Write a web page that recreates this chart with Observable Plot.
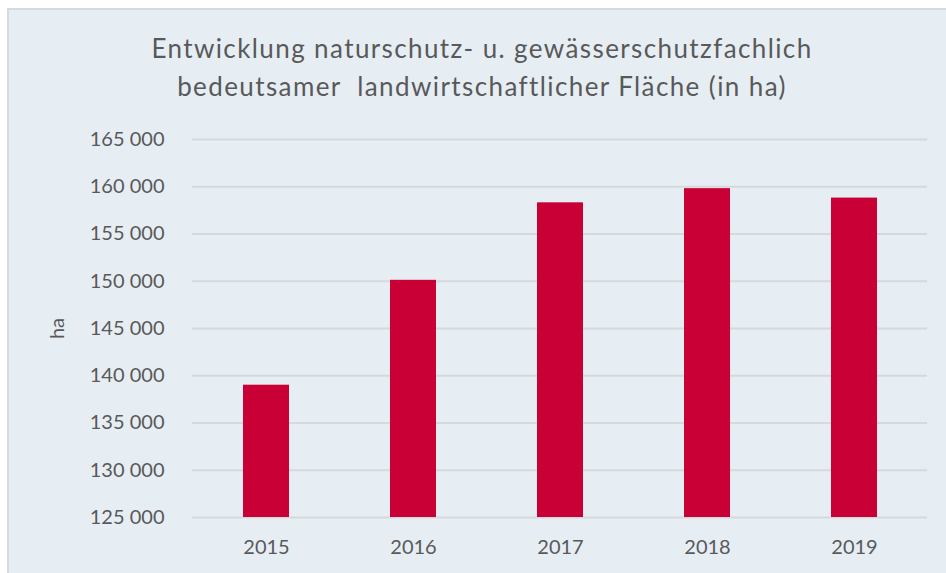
<!DOCTYPE html>
<html>
<head>
<meta charset="utf-8">
<script src="https://cdn.jsdelivr.net/npm/d3@7"></script>
<script src="https://cdn.jsdelivr.net/npm/@observablehq/plot@0.6"></script>
<style>
  html, body { margin: 0; padding: 0; background: #ffffff; }
  #page { position: relative; width: 946px; height: 573px; overflow: hidden; font-family: Lato, "Open Sans", sans-serif; }
  #frame { position: absolute; left: 7px; top: 8px; width: 939px; height: 565px; background: #e6eef4; border-top: 2px solid #d9d9d9; border-left: 2px solid #d9d9d9; box-sizing: border-box; }
  #title { position: absolute; left: 0; width: 964px; top: 29px; text-align: center; color: #595959; font-size: 26px; letter-spacing: 1.4px; line-height: 38px; }
  #chart { position: absolute; left: 0; top: 100px; }
</style>
</head>
<body>
<div id="page">
  <div id="frame"></div>
  <div id="title">Entwicklung naturschutz- u. gewässerschutzfachlich<br>bedeutsamer&nbsp; landwirtschaftlicher Fläche (in ha)</div>
  <div id="chart"></div>
</div>
<script>
const years = ["2015", "2016", "2017", "2018", "2019"];
const values = [139000, 150100, 158300, 159800, 158800];
const yTicks = [125000, 130000, 135000, 140000, 145000, 150000, 155000, 160000, 165000];
const yLabel = "ha";

const data = years.map((y, i) => ({year: y, value: values[i]}));
const fmt = v => d3.format(",")(v).replace(/,/g, " ");

const plot = Plot.plot({
  width: 946,
  height: 473,
  marginLeft: 192,
  marginRight: 19,
  marginTop: 39,
  marginBottom: 56,
  style: { background: "transparent", fontFamily: "Lato, 'Open Sans', sans-serif", fontSize: "20px", color: "#595959" },
  x: { domain: years, paddingInner: 0.69, paddingOuter: 0.345, label: null },
  y: { domain: [125000, 165000], ticks: yTicks, label: yLabel },
  marks: [
    Plot.ruleY(yTicks, { stroke: "#d6d8da", strokeWidth: 2 }),
    Plot.barY(data, { x: "year", y1: 125000, y2: "value", fill: "#c90035" }),
    Plot.axisY({ ticks: yTicks, tickFormat: fmt, tickSize: 0, tickPadding: 28, fontSize: 20, label: yLabel, labelAnchor: "center", labelArrow: "none", labelOffset: 143 }),
    Plot.axisX({ tickSize: 0, tickPadding: 22, fontSize: 20, label: null })
  ]
});
document.getElementById("chart").appendChild(plot);
</script>
</body>
</html>
